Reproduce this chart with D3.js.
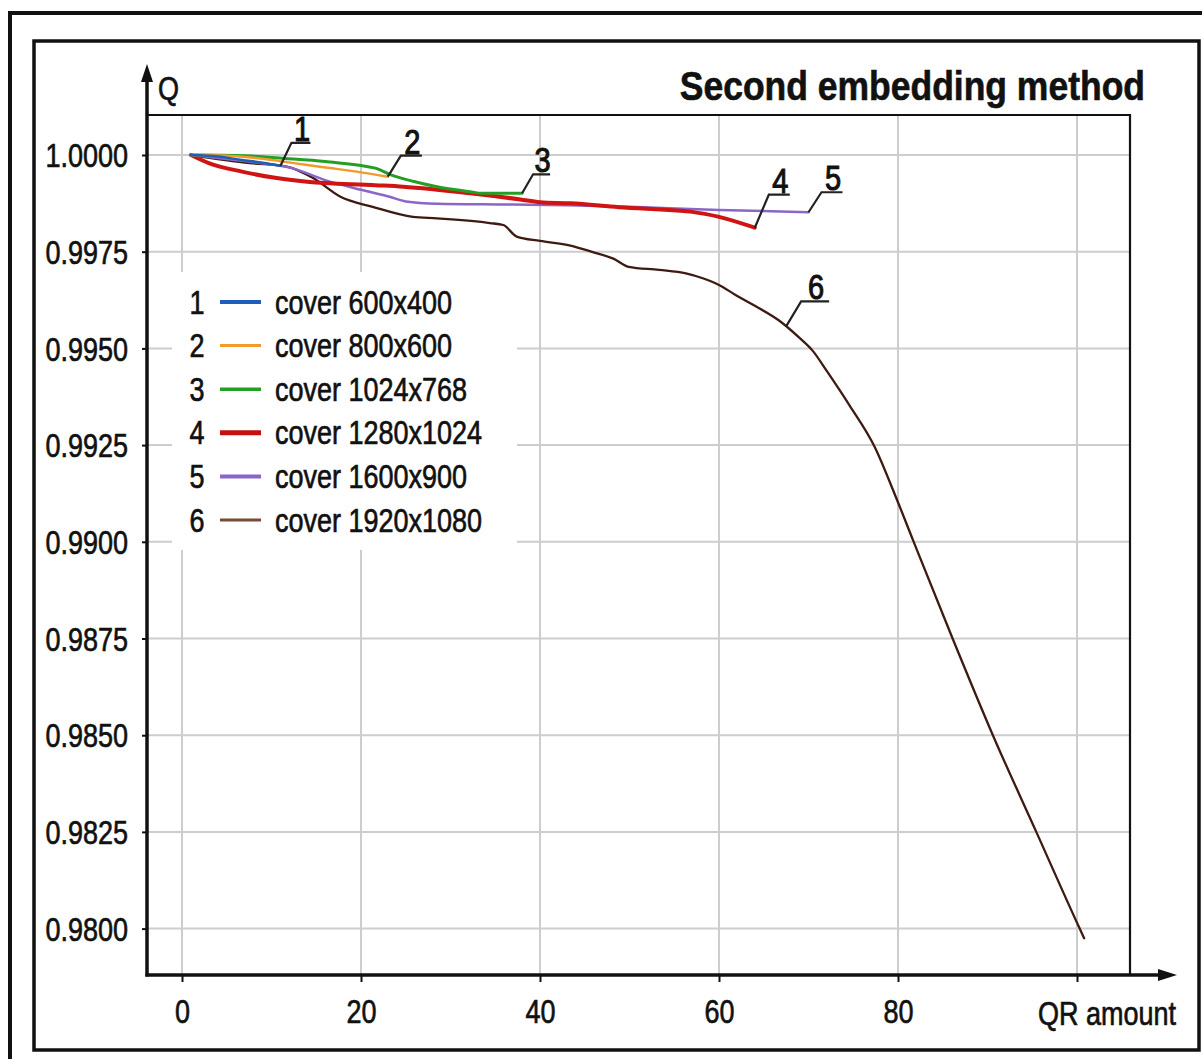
<!DOCTYPE html>
<html>
<head>
<meta charset="utf-8">
<script src="https://cdn.jsdelivr.net/npm/d3@7/dist/d3.min.js"></script>
<style>
  html, body { margin: 0; padding: 0; background: #fff; }
  svg { display: block; }
  text { font-family: "Liberation Sans", Arial, sans-serif; fill: #111; }
  .heavy { stroke: #111; stroke-width: 0.55px; }
</style>
</head>
<body>
<svg id="chart" width="1202" height="1059"></svg>
<script>
// ---- data: QR amount vs. quality Q for each cover size ----
const xTicks = [0, 20, 40, 60, 80, 100];
const yTicks = [0.98, 0.9825, 0.985, 0.9875, 0.99, 0.9925, 0.995, 0.9975, 1.0];
const coverNames = ["cover 600x400", "cover 800x600", "cover 1024x768",
                    "cover 1280x1024", "cover 1600x900", "cover 1920x1080"];

const cover600x400 = [[1, 1.0], [4, 0.99996], [6.7, 0.99987], [9, 0.99980], [11, 0.99972]];
const cover800x600 = [[1, 1.0], [5, 0.99998], [8, 0.99993], [11, 0.99984], [14, 0.99974],
                      [17, 0.99965], [19.5, 0.99957], [23, 0.99944]];
const cover1024x768 = [[1, 1.0], [6, 0.99999], [11.5, 0.99991], [16, 0.99983], [21.6, 0.99966],
                       [23.2, 0.99950], [25.8, 0.99932], [28.5, 0.99918], [32.2, 0.99905],
                       [33.5, 0.99901], [38, 0.99901]];
const cover1280x1024 = [[1, 1.0], [3, 0.99979], [6.7, 0.99957], [10.4, 0.99941], [14, 0.99931],
                        [21.6, 0.99922], [24.7, 0.99918], [32.2, 0.99901], [37.8, 0.99885],
                        [40, 0.99878], [43.4, 0.99875], [48.8, 0.99865], [57, 0.99853],
                        [60, 0.99840], [64, 0.99812]];
const cover1600x900 = [[1, 1.0], [4, 0.99992], [7.4, 0.99983], [12.3, 0.99966], [16, 0.99935],
                       [20, 0.99910], [23.2, 0.99892], [25, 0.99880], [28.5, 0.99874],
                       [36, 0.99872], [43, 0.99870], [50, 0.99866], [60, 0.99858], [70, 0.99852]];
const cover1920x1080 = [[1, 1.0], [7.6, 0.99979], [11.7, 0.99970], [14.6, 0.99941], [17.7, 0.99892],
                        [21.3, 0.99866], [25.8, 0.99840], [28.5, 0.99836], [34.4, 0.99824],
                        [35.9, 0.99819], [37.4, 0.99789], [40, 0.99778], [43.4, 0.99766],
                        [45.9, 0.99749], [48.2, 0.99732], [49.9, 0.99711], [53.3, 0.99703],
                        [56.3, 0.99694], [58.1, 0.99682], [60, 0.99664], [61.8, 0.99639],
                        [63.7, 0.99614], [67, 0.99567], [69, 0.99527], [70.5, 0.99493],
                        [72, 0.99443], [74.6, 0.99352], [77.4, 0.99245], [79.6, 0.99125],
                        [81.7, 0.99003], [86.1, 0.98750], [90.6, 0.98500], [95.45, 0.98250],
                        [100.3, 0.98000], [100.8, 0.97975]];

const seriesData = [cover600x400, cover800x600, cover1024x768, cover1280x1024, cover1600x900, cover1920x1080];

// ---- styles ----
const lineColors = ["#1e5db8", "#f39a2c", "#23a024", "#d01414", "#8a66c8", "#3d1b12"];
const legendColors = ["#1e5db8", "#f39a2c", "#23a024", "#c80f0f", "#8a66c8", "#7a4a38"];
const lineWidths = [2.5, 2.5, 3, 4, 2.5, 2.3];
const legendWidths = [4, 3, 3.5, 5, 4, 3];

// ---- layout ----
const plot = { left: 147, right: 1130, top: 115, bottom: 975 };
const STRETCH = 1.21;       // tall, slightly narrow lettering
const FS = 27;

const svg = d3.select("#chart");

const x = d3.scaleLinear().domain([0, 100]).range([182, 1077]);
const y = d3.scaleLinear().domain([0.98, 1.0]).range([928.6, 155]);

// outer frames
svg.append("rect").attr("x", 10).attr("y", 13).attr("width", 1210).attr("height", 1080)
  .attr("fill", "none").attr("stroke", "#111").attr("stroke-width", 4);
svg.append("rect").attr("x", 34).attr("y", 41).attr("width", 1165).attr("height", 1009)
  .attr("fill", "none").attr("stroke", "#111").attr("stroke-width", 3.5);

// grid
const grid = svg.append("g").attr("stroke", "#cdcdcd").attr("stroke-width", 2);
grid.selectAll("line.h").data(yTicks).join("line").attr("class", "h")
  .attr("x1", plot.left).attr("x2", plot.right)
  .attr("y1", d => y(d)).attr("y2", d => y(d));
grid.selectAll("line.v").data(xTicks).join("line").attr("class", "v")
  .attr("x1", d => x(d)).attr("x2", d => x(d))
  .attr("y1", plot.top).attr("y2", plot.bottom);

// plot box top and right edges
svg.append("path")
  .attr("d", `M${plot.left},${plot.top}H${plot.right}V${plot.bottom}`)
  .attr("fill", "none").attr("stroke", "#111").attr("stroke-width", 2.2);

// legend background + entries
const legend = svg.append("g");
legend.append("rect").attr("x", 172).attr("y", 272).attr("width", 345).attr("height", 278).attr("fill", "#fff");
const rowY = i => 302 + i * 43.6;
coverNames.forEach((name, i) => {
  const cy = rowY(i);
  const base = cy + 0.358 * FS * STRETCH;
  legend.append("text").attr("class", "heavy")
    .attr("transform", `translate(197,${base}) scale(1,${STRETCH})`)
    .attr("text-anchor", "middle").attr("font-size", FS).text(i + 1);
  legend.append("line").attr("x1", 220).attr("x2", 261).attr("y1", cy).attr("y2", cy)
    .attr("stroke", legendColors[i]).attr("stroke-width", legendWidths[i]);
  legend.append("text").attr("class", "heavy")
    .attr("transform", `translate(275,${base}) scale(1,${STRETCH})`)
    .attr("font-size", FS).text(name);
});

// curves (largest cover drawn first, so smaller ones sit on top)
const line = d3.line().x(d => x(d[0])).y(d => y(d[1])).curve(d3.curveMonotoneX);
const order = [5, 4, 3, 2, 1, 0];
svg.append("g").selectAll("path").data(order).join("path")
  .attr("d", i => line(seriesData[i]))
  .attr("fill", "none")
  .attr("stroke", i => lineColors[i])
  .attr("stroke-width", i => lineWidths[i])
  .attr("stroke-linejoin", "round").attr("stroke-linecap", "round");

// numbered call-outs: leader from the curve, underline, number
// at = QR amount where the leader touches the curve; dx/dy/len are call-out offsets
const callouts = [
  { s: 0, at: null, dx: 11, dy: -23, len: 19 },
  { s: 1, at: null, dx: 13, dy: -21, len: 21 },
  { s: 2, at: null, dx: 11, dy: -19, len: 17 },
  { s: 3, at: null, dx: 14, dy: -33, len: 21 },
  { s: 4, at: null, dx: 13, dy: -20, len: 21 },
  { s: 5, at: 67.5, dx: 15, dy: -25, len: 28 }
];
function pointOn(data, at) {
  if (at === null) return data[data.length - 1];
  const i = d3.bisector(d => d[0]).left(data, at);
  const a = data[i - 1], b = data[i];
  const t = (at - a[0]) / (b[0] - a[0]);
  return [at, a[1] + t * (b[1] - a[1])];
}
const co = svg.append("g");
callouts.forEach(c => {
  const p = pointOn(seriesData[c.s], c.at);
  const px = x(p[0]), py = y(p[1]);
  const ux = px + c.dx, uy = py + c.dy;
  co.append("path")
    .attr("d", `M${px},${py}L${ux},${uy}H${ux + c.len}`)
    .attr("fill", "none").attr("stroke", "#222").attr("stroke-width", 2.2);
  co.append("text").attr("class", "heavy")
    .attr("transform", `translate(${ux + c.len / 2 + 1},${uy - 2}) scale(1,${STRETCH})`)
    .attr("text-anchor", "middle").attr("font-size", 29).style("stroke-width", "0.9px").text(c.s + 1);
});

// y axis ticks and labels
const yAxis = svg.append("g").attr("transform", `translate(${plot.left},0)`)
  .call(d3.axisLeft(y).tickValues(yTicks).tickFormat(d3.format(".4f")).tickSize(5).tickPadding(14));
yAxis.select(".domain").remove();
yAxis.selectAll(".tick line").attr("stroke", "#111").attr("stroke-width", 2);
yAxis.selectAll(".tick text").attr("class", "heavy")
  .attr("font-size", FS).attr("font-family", "Liberation Sans, Arial, sans-serif")
  .attr("fill", "#111").attr("dy", "0.358em").attr("transform", `scale(1,${STRETCH})`);

// x axis ticks and labels
const xAxis = svg.append("g").attr("transform", `translate(0,${plot.bottom})`)
  .call(d3.axisBottom(x).tickValues(xTicks).tickFormat(d => d === 100 ? "" : d).tickSize(7));
xAxis.select(".domain").remove();
xAxis.selectAll(".tick line").attr("stroke", "#111").attr("stroke-width", 2);
xAxis.selectAll(".tick text").attr("class", "heavy")
  .attr("font-size", FS).attr("font-family", "Liberation Sans, Arial, sans-serif")
  .attr("fill", "#111").attr("dy", 0).attr("y", 48 / STRETCH).attr("transform", `scale(1,${STRETCH})`);

// axis lines with arrows
const axes = svg.append("g").attr("stroke", "#111").attr("fill", "#111");
axes.append("line").attr("x1", plot.left).attr("x2", plot.left).attr("y1", 78).attr("y2", plot.bottom + 1.5)
  .attr("stroke-width", 3.5);
axes.append("line").attr("x1", plot.left - 1.5).attr("x2", 1162).attr("y1", plot.bottom).attr("y2", plot.bottom)
  .attr("stroke-width", 3.5);
axes.append("path").attr("stroke", "none")
  .attr("d", `M${plot.left},64L${plot.left - 6},82L${plot.left + 6},82Z`);
axes.append("path").attr("stroke", "none")
  .attr("d", `M1177,${plot.bottom}L1158,${plot.bottom - 6}L1158,${plot.bottom + 6}Z`);

// axis titles
svg.append("text").attr("class", "heavy").attr("transform", `translate(158,100) scale(1,${STRETCH})`)
  .attr("font-size", FS).text("Q");
svg.append("text").attr("class", "heavy").attr("transform", `translate(1176,1025) scale(1,${STRETCH})`)
  .attr("text-anchor", "end").attr("font-size", FS).text("QR amount");

// chart title
svg.append("text").attr("class", "heavy").attr("x", 1145).attr("y", 100).attr("text-anchor", "end")
  .attr("transform", "translate(0,-14) scale(1,1.14)")
  .attr("font-size", 35.5).attr("font-weight", "bold").text("Second embedding method");
</script>
</body>
</html>
